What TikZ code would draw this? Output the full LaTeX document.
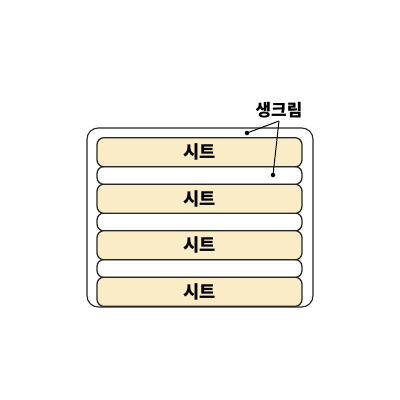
\documentclass[tikz,border=0pt]{standalone}
\usepackage{fontspec}
\newfontfamily\kr{Noto Sans CJK KR}
\definecolor{cream}{RGB}{251,236,200}
\tikzset{
  sheet/.style={draw=black!85, line width=0.9pt, fill=cream, rounded corners=5},
  band/.style={draw=black!85, line width=0.9pt, fill=white, rounded corners=5},
  lbl/.style={font=\kr\bfseries\fontsize{12}{14}\selectfont, inner sep=2pt}
}

\begin{document}
\begin{tikzpicture}[x=0.25mm,y=-0.25mm]
\useasboundingbox (0,0) rectangle (400,400);
\draw [line width=0.8pt, black!85, fill=white, rounded corners=8] (87,128) rectangle (313,307);
% creme layers between sheets
\foreach \i in {0,1,2} {
  \draw [band] (97,{166.5+46.5*\i}) rectangle (302,{184.5+46.5*\i});
}
% sheets
\foreach \i in {1,...,4} {
  \node [sheet, minimum width=51.25mm, minimum height=7.3mm, lbl, font=\kr\bfseries\fontsize{12.5}{14}\selectfont]
    (sheet\i) at (199.5,{152.25+46.5*(\i-1)}) {시트};
}
\node [lbl] (cream) at (279,110) {생크림};
\coordinate (dotA) at (247,133);
\coordinate (dotB) at (273,175);
\fill (dotA) circle (1.6pt);
\fill (dotB) circle (1.6pt);
\draw [line width=0.7pt] (cream.south) -- (dotA);
\draw [line width=0.7pt] (cream.south) -- (dotB);
\end{tikzpicture}
\end{document}
